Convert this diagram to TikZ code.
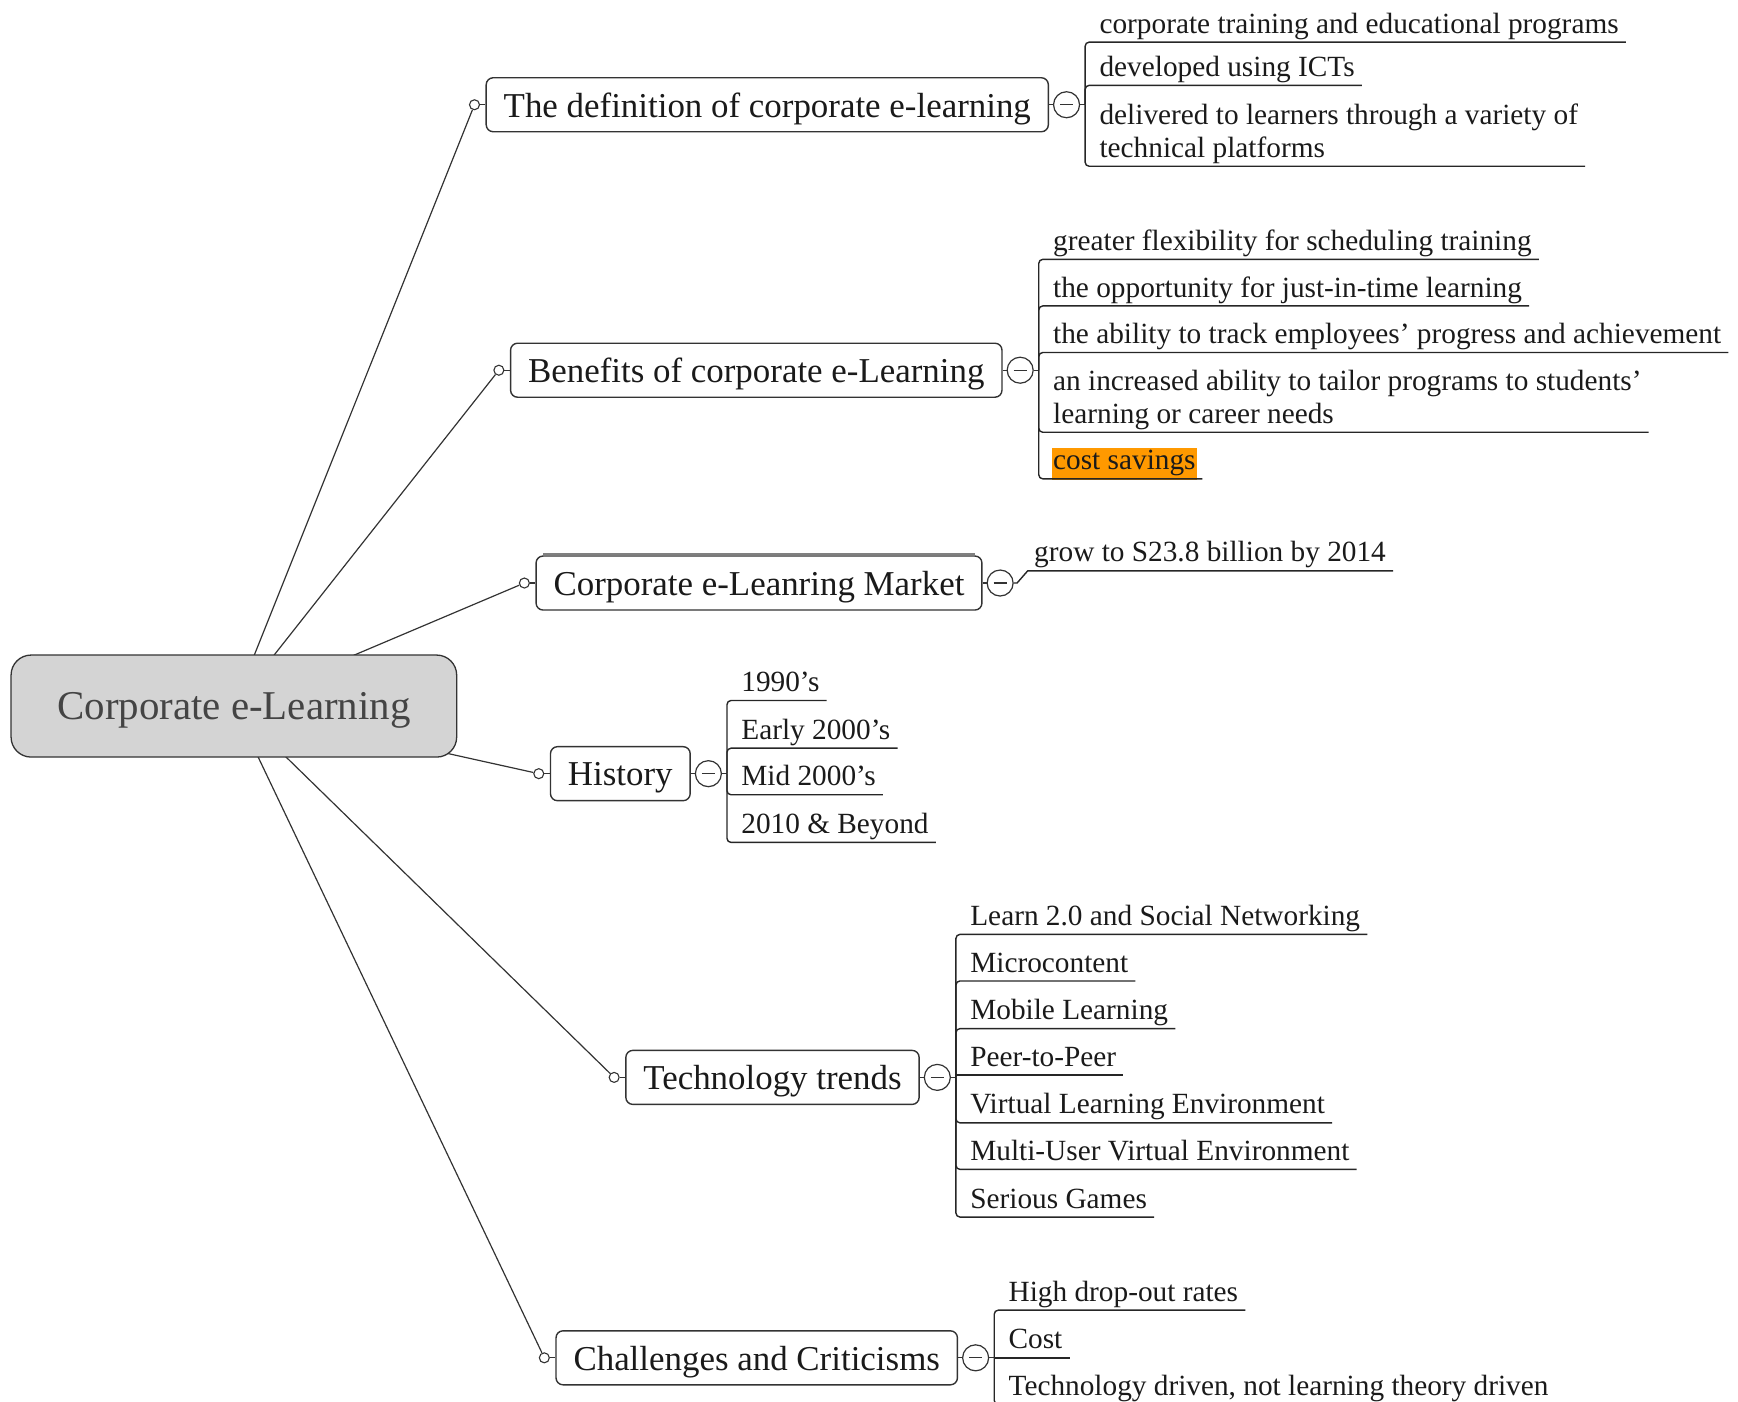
\documentclass[tikz,border=0pt]{standalone}
\usepackage{fontspec}
\setmainfont{Liberation Serif}
\usetikzlibrary{calc,backgrounds}
\definecolor{ink}{HTML}{1A1A1A}
\definecolor{linec}{HTML}{333333}
\definecolor{centralfill}{HTML}{D4D4D4}
\definecolor{centraltext}{HTML}{444444}
\definecolor{costorange}{HTML}{FF9900}
\tikzset{
  central/.style={draw=linec, fill=centralfill, line width=1.3pt, rounded corners=20pt,
    minimum width=445.6pt, minimum height=102pt, inner sep=0pt,
    text height=32pt, text depth=6pt,
    font=\fontsize{40.9}{48}\selectfont, text=centraltext},
  branch/.style={draw=linec, fill=white, line width=1.4pt, rounded corners=7pt,
    inner xsep=17.5pt, inner ysep=0pt, minimum height=54pt,
    text height=28pt, text depth=3.4pt,
    font=\fontsize{34.9}{40}\selectfont, text=ink, anchor=west},
  knob/.style={circle, draw=linec, fill=white, line width=1.1pt, inner sep=0pt, minimum size=10pt},
  minus/.style={circle, draw=linec, fill=white, line width=1.2pt, inner sep=0pt, minimum size=26pt,
    path picture={\draw[linec, line width=1.2pt]
      ([xshift=-6.5pt]path picture bounding box.center) -- ([xshift=6.5pt]path picture bounding box.center);}},
  leaf/.style={inner xsep=7pt, inner ysep=0pt, font=\fontsize{29.3}{32.5}\selectfont, text=ink},
  link/.style={draw=linec, line width=1.2pt},
  uline/.style={draw=black!85, line width=1.4pt},
}
\newcommand\branchparts[1]{%
  \node[knob] (#1k) at ([xshift=-11pt]#1.west) {};
  \node[minus] (#1m) at ([xshift=17.5pt]#1.east) {};
  \draw[link] (#1k) -- (#1.west);
  \draw[link] (#1.east) -- (#1m);
  \coordinate (#1br) at ([xshift=5pt]#1m.east);
  \draw[link] (#1m) -- (#1br);
}
\newcommand\leafitem[4]{%
  \node[leaf, anchor=base west] (#1) at ($(#2br |- 0,#3)+(6.5,-8)$) {#4};
  \draw[uline, rounded corners=4pt] (#2br) -- (#2br |- 0,#3) -- (#1.east |- 0,#3);
}
\newcommand\leafflat[4]{%
  \node[leaf, anchor=base west] (#1) at ($(#2br |- 0,#3)+(6.5,-8)$) {#4};
  \draw[uline] (#2br |- 0,#3) -- (#1.east |- 0,#3);
}
\newcommand\twolines[2]{\begin{tabular}[b]{@{}l@{}}#1\\#2\end{tabular}}
\begin{document}
\begin{tikzpicture}[x=1.1084pt, y=-1.1084pt]
\useasboundingbox (0,0) rectangle (1568,1264);
\clip (0,0) rectangle (1568,1264);

\node[central] (c) at (211,637) {Corporate e-Learning};

\node[branch] (b1) at (438,94.5) {The definition of corporate e-learning};
\node[branch] (b2) at (460,334) {Benefits of corporate e-Learning};
\node[branch] (b3) at (483,526) {Corporate e-Leanring Market};
\node[branch] (b4) at (496,698) {History};
\node[branch] (b5) at (564,972) {Technology trends};
\node[branch] (b6) at (501,1225) {Challenges and Criticisms};
\draw[gray, line width=2.2pt] ([xshift=8pt,yshift=1.2pt]b3.north west) -- ([xshift=-8pt,yshift=1.2pt]b3.north east);

\branchparts{b1}
\branchparts{b2}
\branchparts{b4}
\branchparts{b5}
\branchparts{b6}
\node[knob] (b3k) at ([xshift=-11pt]b3.west) {};
\node[minus] (b3m) at ([xshift=17.5pt]b3.east) {};
\draw[link] (b3k) -- (b3.west);
\draw[link] (b3.east) -- (b3m);

\begin{scope}[on background layer]
  \foreach \b in {b1,b2,b3,b4,b5,b6} {\draw[link] (c.center) -- (\b k);}
\end{scope}

% definition
\leafitem{d1}{b1}{38}{corporate training and educational programs}
\leafitem{d2}{b1}{77}{developed using ICTs}
\leafitem{d3}{b1}{150}{\twolines{delivered to learners through a variety of}{technical platforms}}

% benefits
\leafitem{e1}{b2}{234}{greater flexibility for scheduling training}
\leafitem{e2}{b2}{276}{the opportunity for just-in-time learning}
\leafitem{e3}{b2}{318}{the ability to track employees’ progress and achievement}
\leafitem{e4}{b2}{390}{\twolines{an increased ability to tailor programs to students’}{learning or career needs}}
\node[leaf, fill=costorange, inner xsep=1pt, inner ysep=3pt, text height=18.5pt, text depth=7.5pt, anchor=base west]
  (e5) at ($(b2br |- 0,432)+(11.9,-8)$) {cost savings};
\draw[uline, rounded corners=4pt] (b2br) -- (b2br |- 0,432) -- ($(e5.east |- 0,432)+(5,0)$);

% market
\coordinate (g1s) at ($(b3m.east)+(12.6,-11)$);
\node[leaf, anchor=base west] (g1) at ($(g1s)+(-0.6,-8)$) {grow to S23.8 billion by 2014};
\draw[uline] (b3m.east) -- ++(3,0) -- (g1s) -- (g1.east |- g1s);

% history
\leafitem{h1}{b4}{632}{1990’s}
\leafitem{h2}{b4}{675}{Early 2000’s}
\leafitem{h3}{b4}{717}{Mid 2000’s}
\leafitem{h4}{b4}{760}{2010 \& Beyond}

% technology trends
\leafitem{t1}{b5}{843}{Learn 2.0 and Social Networking}
\leafitem{t2}{b5}{885}{Microcontent}
\leafitem{t3}{b5}{928}{Mobile Learning}
\leafflat{t4}{b5}{970}{Peer-to-Peer}
\leafitem{t5}{b5}{1013}{Virtual Learning Environment}
\leafitem{t6}{b5}{1055}{Multi-User Virtual Environment}
\leafitem{t7}{b5}{1098}{Serious Games}

% challenges
\leafitem{k1}{b6}{1182}{High drop-out rates}
\leafflat{k2}{b6}{1225}{Cost}
\leafitem{k3}{b6}{1267}{Technology driven, not learning theory driven}
\end{tikzpicture}
\end{document}
